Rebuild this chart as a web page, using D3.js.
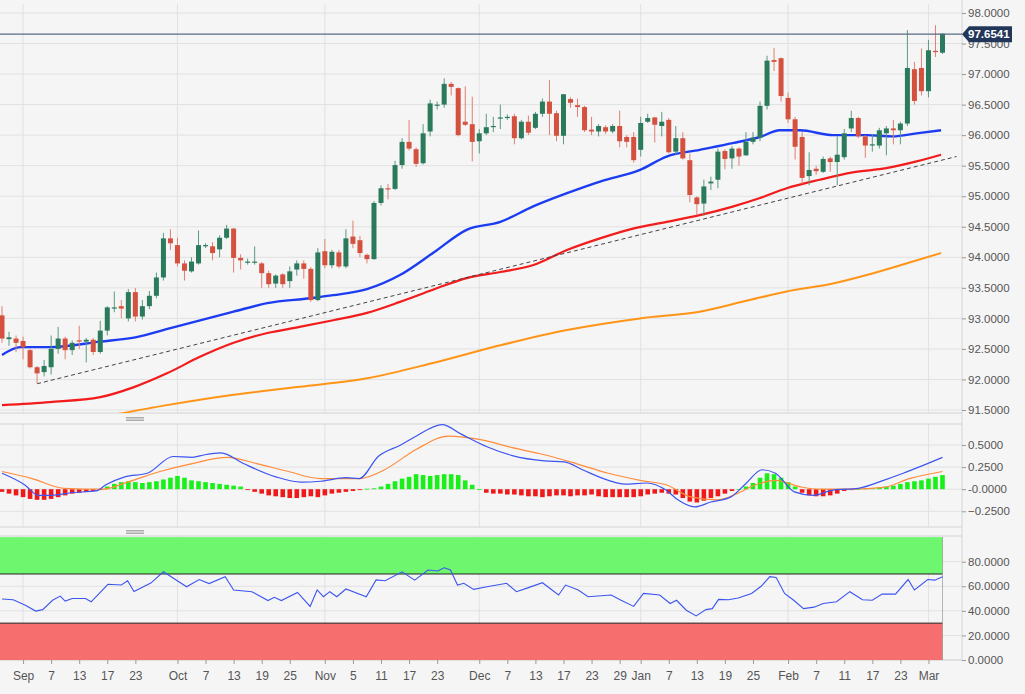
<!DOCTYPE html>
<html><head><meta charset="utf-8">
<script src="https://cdn.jsdelivr.net/npm/d3@7"></script>
<style>body{margin:0;background:#f5f5f5;}svg{display:block;font-family:"Liberation Sans Narrow","Liberation Sans",Arial,sans-serif;}</style>
</head><body><svg id="c" width="1025" height="694"></svg>
<script>
// ---- data ----
const startDate = "2021-08-27", endDate = "2022-03-03";
const opens  = [93.05,92.66,92.67,92.63,92.48,92.2,92.12,92.2,92.5,92.67,92.48,92.64,92.62,92.65,92.45,92.8,93.18,93.2,93.0,93.43,93.03,93.2,93.37,93.67,94.31,94.2,93.9,93.77,93.9,94.2,94.18,94.13,94.32,94.47,93.99,93.93,93.93,93.9,93.74,93.57,93.72,93.61,93.8,93.9,93.81,93.3,
94.1,93.87,94.08,93.85,94.34,94.28,94.04,93.97,94.89,95.13,95.12,95.51,95.89,95.77,95.54,96.06,96.5,96.5,96.84,96.77,96.22,96.18,95.9,96.03,96.14,96.28,96.28,96.31,95.95,96.22,96.12,96.35,96.55,96.36,95.99,96.59,96.49,96.46,96.09,96.06,96.13,96.06,96.15,95.97,95.97,95.76,
96.22,96.29,96.15,96.25,95.73,95.95,95.59,94.98,94.88,95.21,95.27,95.74,95.62,95.78,95.67,95.89,95.96,96.48,97.23,97.26,96.61,96.26,95.97,95.33,95.45,95.4,95.62,95.56,95.64,96.11,96.28,95.98,95.83,95.83,96.03,96.11,96.08,96.19,97.08,97.1,96.72,97.38,97.35];
const highs  = [93.2,92.78,92.72,92.7,92.5,92.22,92.32,92.72,92.86,92.7,92.64,92.88,92.68,92.68,92.96,93.2,93.44,93.3,93.48,93.5,93.3,93.45,93.75,94.4,94.46,94.32,93.95,94.0,94.44,94.23,94.25,94.36,94.53,94.48,94.05,93.98,94.18,93.92,93.78,93.72,93.74,93.85,93.95,93.95,93.84,94.15,
94.3,94.12,94.12,94.46,94.6,94.35,94.06,94.92,95.18,95.2,95.58,95.95,96.25,95.8,96.18,96.58,96.55,96.93,96.87,96.78,96.8,96.63,96.1,96.35,96.3,96.5,96.34,96.35,96.25,96.32,96.38,96.6,96.9,96.4,96.67,96.62,96.6,96.48,96.3,96.18,96.16,96.18,96.4,96.0,96.05,96.3,
96.35,96.3,96.38,96.28,96.15,96.05,95.7,95.0,95.27,95.32,95.78,95.77,95.82,95.8,96.05,96.05,96.55,97.3,97.43,97.27,96.7,96.3,96.05,95.72,95.5,95.65,95.65,95.98,96.1,96.4,96.3,96.0,96.02,96.12,96.15,96.25,96.22,97.72,97.2,97.42,97.56,97.8,97.67];
const lows   = [92.6,92.55,92.45,92.33,92.18,91.93,92.05,92.08,92.42,92.33,92.4,92.5,92.28,92.4,92.42,92.72,93.1,93.0,92.95,92.95,92.98,93.15,93.33,93.62,94.12,93.85,93.62,93.75,93.88,94.15,93.95,94.0,94.3,93.75,93.8,93.88,93.88,93.5,93.5,93.5,93.5,93.5,93.7,93.65,93.27,93.28,
93.82,93.82,93.82,93.82,94.15,94.0,93.9,93.96,94.85,94.95,95.1,95.45,95.75,95.48,95.52,95.98,96.42,96.45,96.65,95.98,96.15,95.57,95.7,96.0,96.05,96.1,96.25,95.85,95.93,96.0,96.1,96.3,96.0,95.9,95.85,96.45,96.3,96.05,96.0,95.98,96.02,96.03,95.8,95.8,95.55,95.65,
96.2,95.88,95.98,95.7,95.68,95.6,94.9,94.7,94.68,95.1,95.13,95.44,95.45,95.5,95.66,95.85,95.9,96.42,97.05,96.55,96.2,95.6,95.2,95.18,95.35,95.38,95.4,95.18,95.6,96.05,95.95,95.63,95.73,95.78,95.67,95.85,95.85,96.15,96.5,96.65,96.62,97.28,97.33];
const closes = [92.67,92.69,92.6,92.53,92.2,92.1,92.22,92.5,92.67,92.48,92.6,92.62,92.65,92.45,92.8,93.18,93.18,93.16,93.43,93.03,93.2,93.37,93.67,94.31,94.23,93.9,93.78,93.93,94.2,94.2,94.07,94.32,94.47,93.99,93.95,93.93,93.93,93.74,93.56,93.7,93.56,93.77,93.9,93.81,93.3,94.08,
93.87,94.09,93.85,94.31,94.22,94.07,93.97,94.89,95.13,95.12,95.51,95.89,95.78,95.53,96.03,96.52,96.5,96.84,96.79,96.0,96.17,95.89,96.03,96.13,96.15,96.29,96.3,95.95,96.22,96.04,96.35,96.55,96.35,95.99,96.67,96.53,96.46,96.08,96.06,96.15,96.06,96.15,95.9,95.89,95.59,96.2,
96.28,96.17,96.22,95.72,95.95,95.62,95.02,94.87,95.16,95.24,95.73,95.61,95.78,95.65,95.89,95.96,96.48,97.22,97.2,96.64,96.26,95.81,95.3,95.43,95.41,95.61,95.56,95.68,96.03,96.28,95.98,95.83,95.85,96.08,96.11,96.08,96.19,97.1,96.56,96.72,97.39,97.36,97.66];
const lastPrice = 97.6541;
// moving averages: [candle index, value]
const ma50  = [[0,92.40],[2.6,92.53],[6.8,92.53],[14,92.62],[19,92.69],[24,92.84],[33,93.11],[37.8,93.25],[43.9,93.33],[47.2,93.38],[52,93.48],[56.7,93.71],[61.4,94.07],[66.2,94.45],[71,94.58],[75.6,94.83],[80.5,95.05],[85.2,95.24],[90.9,95.43],[94.7,95.65],[99.4,95.76],[104.1,95.87],[108,95.97],[110.8,96.08],[113.7,96.08],[118.4,96.0],[123.2,96.0],[126.9,95.98],[130.3,96.03],[133.8,96.08]];
const ma100 = [[0,91.58],[6.8,91.63],[14,91.71],[18.7,91.87],[23.5,92.1],[28.2,92.37],[33,92.6],[37.8,92.76],[42.4,92.86],[47.2,92.97],[52,93.09],[56.7,93.27],[61.4,93.47],[66.2,93.66],[71,93.76],[75.6,93.87],[80.5,94.12],[85.2,94.31],[89.9,94.47],[94.7,94.58],[99.4,94.69],[104.1,94.83],[108,94.97],[111.8,95.13],[116.5,95.27],[121.2,95.39],[126,95.46],[130.3,95.57],[133.8,95.68]];
const ma200 = [[14.9,91.40],[23.5,91.58],[33,91.75],[42.4,91.88],[52,92.02],[61.4,92.27],[71,92.56],[80.5,92.81],[90.9,93.0],[99.4,93.11],[106.5,93.3],[111.8,93.44],[118.4,93.57],[123.2,93.71],[128,93.87],[133.8,94.07]];
const trend = [[5,91.93],[136,95.65]];
const macd = [[0,0.18],[3.3,0.046],[5.2,-0.07],[7.1,-0.07],[9.8,-0.04],[13.4,-0.02],[14.8,0.05],[17.5,0.14],[20.7,0.18],[24.4,0.37],[27.1,0.36],[28.9,0.39],[31.2,0.41],[34.4,0.29],[39,0.14],[42.6,0.08],[45.4,0.09],[49,0.13],[50.9,0.12],[53.6,0.37],[56.8,0.5],[59,0.6],[62.7,0.73],[65.5,0.62],[69.1,0.48],[72.7,0.38],[77.3,0.32],[80.1,0.31],[82.7,0.22],[86.4,0.10],[88.7,0.057],[91.9,0.07],[94.6,-0.01],[96.4,-0.126],[98.7,-0.2],[101,-0.145],[103.8,-0.09],[106,0.065],[108.3,0.22],[110.2,0.18],[112.9,-0.03],[115.6,-0.07],[118.4,-0.01],[122,0.01],[125.6,0.10],[128.4,0.18],[134,0.36]];
const signal = [[0,0.20],[4.3,0.12],[8.8,0.01],[14.3,0.0],[17.9,0.08],[22.5,0.20],[27.1,0.29],[32.1,0.36],[36.3,0.29],[40.8,0.20],[45.4,0.12],[50.9,0.12],[54.5,0.22],[59,0.45],[63.6,0.6],[68.2,0.56],[72.7,0.47],[77.3,0.39],[81.8,0.29],[86.4,0.18],[90.9,0.10],[94.6,0.05],[98.3,-0.09],[101.9,-0.12],[104.7,-0.05],[107.4,0.05],[110.2,0.10],[113.8,0.026],[116.5,0.0],[121.1,0.0],[125.6,0.02],[129.3,0.12],[134,0.20]];
const hist = [-0.03,-0.05,-0.07,-0.09,-0.11,-0.12,-0.12,-0.11,-0.09,-0.07,-0.05,-0.04,-0.03,-0.02,-0.01,
0.03,0.06,0.08,0.09,0.08,0.07,0.08,0.09,0.11,0.13,0.15,0.13,0.10,0.09,0.08,0.07,0.06,0.05,0.04,0.03,
-0.01,-0.03,-0.05,-0.07,-0.08,-0.09,-0.10,-0.10,-0.09,-0.08,-0.09,-0.07,-0.05,-0.04,-0.03,-0.02,-0.01,0.005,
0.01,0.03,0.06,0.09,0.12,0.14,0.17,0.16,0.15,0.16,0.17,0.17,0.16,0.10,0.05,0.0,
-0.04,-0.05,-0.05,-0.06,-0.06,-0.07,-0.08,-0.08,-0.09,-0.08,-0.07,-0.07,-0.08,-0.07,-0.07,-0.06,-0.08,-0.09,-0.09,-0.09,-0.09,-0.09,-0.08,-0.06,-0.05,-0.04,-0.05,-0.06,
-0.10,-0.14,-0.15,-0.13,-0.10,-0.08,-0.05,-0.02,0.0,
0.03,0.07,0.13,0.18,0.17,0.13,0.08,0.03,
-0.04,-0.07,-0.08,-0.08,-0.07,-0.05,-0.02,
-0.01,0.005,0.01,0.01,0.02,0.03,
0.04,0.06,0.08,0.09,0.10,0.12,0.14,0.16];
const rsi = [[0,49.6],[1.6,49],[3.4,44.3],[4.8,39.8],[5.8,41],[7.2,48.6],[8.3,52],[9,48],[10,50],[11.9,50],[12.7,47.4],[15.1,61.6],[17,61],[17.9,64.5],[18.8,55.7],[21.2,62.6],[23,71.8],[26.3,59.6],[28.1,65.5],[29.5,62.2],[31.8,67.8],[33,57],[35.6,55.6],[37.9,48.4],[38.8,51],[39.8,48.4],[42.1,55],[43.9,43.6],[44.9,57],[45.8,51.5],[46.7,55.6],[47.7,51.5],[49,57.8],[51.9,51.5],[53.3,65.2],[54.6,64.5],[57,71.8],[58.8,65],[60.7,73.2],[62.1,72.4],[63,75],[63.9,73.2],[64.9,61],[65.8,62.4],[67.2,57.5],[69.1,59.6],[71.9,62.4],[73.3,55.6],[74.7,58.3],[77,62.9],[79.3,52.9],[80.3,61],[82.1,57],[83.5,51.5],[86.8,52.9],[88.2,48.6],[90,43.6],[91.4,54.2],[93.7,52.9],[95.2,46],[96.1,48.6],[97.5,40.5],[98.9,35.9],[100.3,41],[101.2,41.8],[102.1,49.3],[103.5,49],[104.9,50.4],[106.8,54.2],[108.2,60.2],[109.4,67.8],[110.3,67.2],[111.5,54.2],[112.8,48.6],[114.2,41.8],[115.7,43],[117,46],[118.9,47.4],[120.8,55.6],[122.6,49],[124,48.6],[125.4,53.6],[127.3,53.6],[129.1,65.5],[130,57],[131.9,65.5],[132.9,65],[134,67.8]];
const priceTicks = [91.5,92,92.5,93,93.5,94,94.5,95,95.5,96,96.5,97,97.5,98];
const macdTicks = [-0.25,0,0.25,0.5];
const rsiTicks = [0,20,40,60,80];
const xTickDates = ["2021-09-01","2021-09-07","2021-09-13","2021-09-17","2021-09-23","2021-10-01","2021-10-07","2021-10-13","2021-10-19","2021-10-25","2021-11-01","2021-11-05","2021-11-11","2021-11-17","2021-11-23","2021-12-01","2021-12-07","2021-12-13","2021-12-17","2021-12-23","2021-12-29","2022-01-03","2022-01-07","2022-01-13","2022-01-19","2022-01-25","2022-02-01","2022-02-07","2022-02-11","2022-02-17","2022-02-23","2022-03-01"];
const monthStarts = ["2021-09-01","2021-10-01","2021-11-01","2021-12-01","2022-01-03","2022-02-01","2022-03-01"];

// ---- build ----
const fmtD = d3.timeFormat("%Y-%m-%d");
const dates = d3.timeDay.range(new Date(startDate+"T00:00"), d3.timeDay.offset(new Date(endDate+"T00:00"),1)).filter(d=>d.getDay()%6!==0).map(fmtD);
const idx = s => dates.indexOf(s);
const svg = d3.select("#c");
const W = 962;
const x = d3.scaleLinear().domain([0, dates.length-1]).range([2, 942.5]);
const yP = d3.scaleLinear().domain([91.5,98]).range([410,13]);
const yM = d3.scaleLinear().domain([-0.25,0.5]).range([511.3,445]);
const yR = d3.scaleLinear().domain([0,80]).range([660,561.7]);
const grid = "#e1e1e1";

const defs = svg.append("defs");
[["cP",0,4,W,409],["cM",0,424,W,103],["cR",0,536,W,124]].forEach(([id,a,b,w,h])=>defs.append("clipPath").attr("id",id).append("rect").attr("x",a).attr("y",b).attr("width",w).attr("height",h));

// panels backgrounds & borders
svg.append("rect").attr("width",1025).attr("height",694).attr("fill","#f5f5f5");
// vertical grid
monthStarts.forEach(m=>{ [[4,413],[424,527],[536,660]].forEach(([a,b])=>svg.append("line").attr("x1",x(idx(m))).attr("x2",x(idx(m))).attr("y1",a).attr("y2",b).attr("stroke",grid));});
const hGrid=(ticks,y,g)=>ticks.forEach(t=>svg.append("line").attr("x1",0).attr("x2",W).attr("y1",y(t)).attr("y2",y(t)).attr("stroke",grid));
hGrid(priceTicks,yP); hGrid(macdTicks,yM); hGrid(rsiTicks,yR);
[413,424,527,536,660].forEach(v=>svg.append("line").attr("x1",0).attr("x2",W).attr("y1",v).attr("y2",v).attr("stroke","#d4d4d4"));
svg.append("line").attr("x1",W).attr("x2",W).attr("y1",0).attr("y2",660).attr("stroke","#d4d4d4");
// handles
[419,532].forEach(v=>{[-1.5,0,1.5].forEach(o=>svg.append("line").attr("x1",126).attr("x2",144).attr("y1",v+o).attr("y2",v+o).attr("stroke","#999").attr("stroke-width",0.8));});

// axes
const axP = d3.axisRight(yP).tickValues(priceTicks).tickFormat(d3.format(".4f")).tickSize(4);
const axM = d3.axisRight(yM).tickValues(macdTicks).tickFormat(d=>d===0?"-0.0000":d3.format(".4f")(d)).tickSize(4);
const axR = d3.axisRight(yR).tickValues(rsiTicks).tickFormat(d3.format(".4f")).tickSize(4);
[axP,axM,axR].forEach(a=>{const g=svg.append("g").attr("transform",`translate(${W},0)`).call(a);
  g.select(".domain").remove(); g.selectAll("line").attr("stroke","#999");
  g.selectAll("text").attr("fill","#555").attr("font-size",11.5).attr("x",6);});
const axX = d3.axisBottom(x).tickValues(xTickDates.map(idx)).tickSize(4)
  .tickFormat(i=>{const d=dates[i]; return monthStarts.includes(d)? d3.timeFormat("%b")(new Date(d+"T00:00")) : String(+d.slice(8));});
const gx = svg.append("g").attr("transform","translate(0,660)").call(axX);
gx.select(".domain").remove(); gx.selectAll("line").attr("stroke","#999");
gx.selectAll("text").attr("fill","#555").attr("font-size",12).attr("dy","1.1em");

// main panel
const gp = svg.append("g").attr("clip-path","url(#cP)");
const line = (y)=>d3.line().x(d=>x(d[0])).y(d=>y(d[1])).curve(d3.curveMonotoneX);
gp.append("path").datum(ma200).attr("d",line(yP)).attr("fill","none").attr("stroke","#ff9417").attr("stroke-width",2);
gp.append("path").datum(ma100).attr("d",line(yP)).attr("fill","none").attr("stroke","#f21c1c").attr("stroke-width",2.2);
gp.append("path").datum(trend).attr("d",d3.line().x(d=>x(d[0])).y(d=>yP(d[1]))).attr("fill","none").attr("stroke","#444").attr("stroke-width",1).attr("stroke-dasharray","4,3");
gp.append("path").datum(ma50).attr("d",line(yP)).attr("fill","none").attr("stroke","#1c3cf2").attr("stroke-width",2.4);
const candles = dates.map((d,i)=>({i,o:opens[i],h:highs[i],l:lows[i],c:closes[i]}));
const up="#2b7a5c", dn="#d5513f";
gp.selectAll(".w").data(candles).join("line").attr("x1",d=>x(d.i)).attr("x2",d=>x(d.i)).attr("y1",d=>yP(d.h)).attr("y2",d=>yP(d.l)).attr("stroke",d=>d.c>=d.o?"#5a9a80":"#e08070").attr("stroke-width",1);
gp.selectAll(".b").data(candles).join("rect").attr("x",d=>x(d.i)-2.5).attr("width",5).attr("y",d=>yP(Math.max(d.o,d.c))).attr("height",d=>Math.max(1.2,Math.abs(yP(d.o)-yP(d.c)))).attr("fill",d=>d.c>=d.o?up:dn);
// last price line
svg.append("line").attr("x1",0).attr("x2",W).attr("y1",yP(lastPrice)).attr("y2",yP(lastPrice)).attr("stroke","#5a6a85").attr("stroke-width",1.2);
const ly=yP(lastPrice);
svg.append("path").attr("d",`M${W},${ly} L${W+7},${ly-8} H1012 V${ly+8} H${W+7} Z`).attr("fill","#22365a");
svg.append("text").attr("x",968).attr("y",ly+4).attr("fill","#fff").attr("font-size",11.5).attr("font-weight","bold").text(lastPrice.toFixed(4));

// MACD
const gm = svg.append("g").attr("clip-path","url(#cM)");
gm.selectAll("rect").data(hist).join("rect").attr("x",(d,i)=>x(i)-2.3).attr("width",4.6)
  .attr("y",d=>yM(Math.max(0,d))).attr("height",d=>Math.max(0.8,Math.abs(yM(d)-yM(0)))).attr("fill",d=>d>=0?"#19f019":"#f01919");
gm.append("path").datum(signal).attr("d",line(yM)).attr("fill","none").attr("stroke","#ff8c3a").attr("stroke-width",1.2);
gm.append("path").datum(macd).attr("d",line(yM)).attr("fill","none").attr("stroke","#3d55f0").attr("stroke-width",1.2);

// RSI
const gr = svg.append("g").attr("clip-path","url(#cR)");
gr.append("rect").attr("x",0).attr("width",x(dates.length-1)).attr("y",yR(100)).attr("height",yR(70)-yR(100)).attr("fill","#6ef76e");
gr.append("rect").attr("x",0).attr("width",x(dates.length-1)).attr("y",yR(30)).attr("height",yR(0)-yR(30)).attr("fill","#f76e6e");
[70,30].forEach(v=>gr.append("line").attr("x1",0).attr("x2",x(dates.length-1)).attr("y1",yR(v)).attr("y2",yR(v)).attr("stroke","#222").attr("stroke-width",1));
gr.append("line").attr("x1",x(dates.length-1)).attr("x2",x(dates.length-1)).attr("y1",yR(100)).attr("y2",yR(0)).attr("stroke","#888").attr("stroke-width",0.6);
gr.append("path").datum(rsi).attr("d",d3.line().x(d=>x(d[0])).y(d=>yR(d[1]))).attr("fill","none").attr("stroke","#3d55f0").attr("stroke-width",1.1);
</script></body></html>
